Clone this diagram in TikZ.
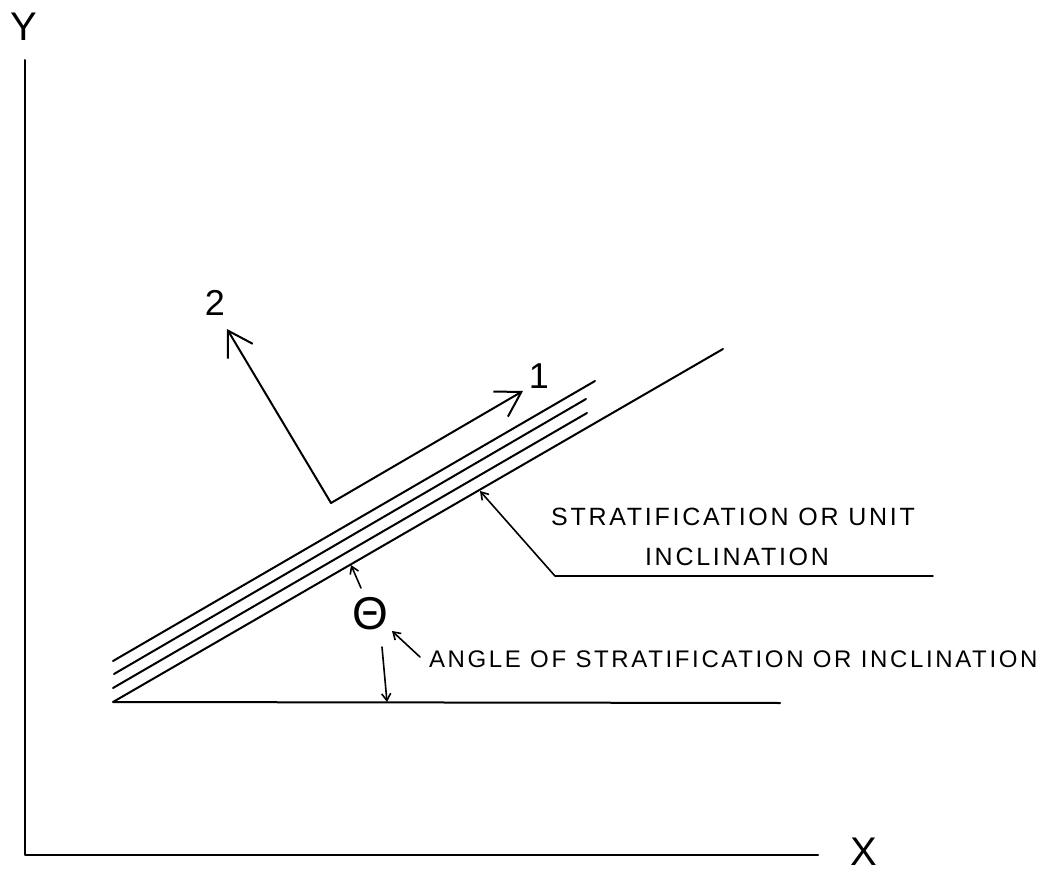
\documentclass[tikz,border=0pt]{standalone}
\usepackage{fontspec}
\setmainfont{Liberation Sans}
\newfontfamily\lettfont[LetterSpace=11]{Liberation Sans}
\usetikzlibrary{arrows.meta}
\begin{document}
\begin{tikzpicture}[x=1pt,y=-1pt,
  line width=2pt, line cap=round, line join=round,
  bigarrow/.style={-{Straight Barb[length=24pt,width=29pt,line width=2pt]}},
  smallarrow/.style={-{Straight Barb[length=7pt,width=9pt,line width=1.6pt]}, line width=1.6pt},
  axislabel/.style={inner sep=0pt, font=\fontsize{40}{46}\selectfont},
  dirlabel/.style={inner sep=0pt, font=\fontsize{36}{42}\selectfont},
  notelabel/.style={inner sep=0pt, font=\lettfont\fontsize{25}{30}\selectfont},
  anglelabel/.style={inner sep=0pt, font=\lettfont\fontsize{24}{30}\selectfont}]
\useasboundingbox (0,0) rectangle (1060,874);
% axes
\coordinate (O) at (25,855);
\coordinate (Ytop) at (25,60);
\coordinate (Xend) at (818,855);
\draw (Ytop) -- (O) -- (Xend);
\node[axislabel] (Ylab) at (24,27) {Y};
\node[axislabel] (Xlab) at (864,852) {X};
% base and strata
\coordinate (A) at (113,702);
\coordinate (B) at (780,703);
\coordinate (M) at (723,349);
\draw (B) -- (A) -- (M);
\coordinate (s1a) at (113,688); \coordinate (s1b) at (587,413);
\coordinate (s2a) at (114,674); \coordinate (s2b) at (586,399);
\coordinate (s3a) at (113,661); \coordinate (s3b) at (595,381);
\draw (s1a) -- (s1b);
\draw (s2a) -- (s2b);
\draw (s3a) -- (s3b);
% local axes 1 and 2
\coordinate (C) at (331,503);
\coordinate (T2) at (227,329);
\coordinate (T1) at (523,391);
\draw[bigarrow] (C) -- (T2);
\draw[bigarrow] (C) -- (T1);
\node[dirlabel] (L2) at (215,303) {2};
\node[dirlabel] (L1) at (539,376) {1};
% stratification leader
\coordinate (Stip) at (480,491);
\coordinate (Scorner) at (555,576);
\coordinate (Send) at (933,576);
\draw[smallarrow] (Send) -- (Scorner) -- (Stip);
\node[notelabel] (Strat1) at (733,517) {STRATIFICATION OR UNIT};
\node[notelabel] (Strat2) at (737,557) {INCLINATION};
% angle
\node[inner sep=0pt, font=\fontsize{46}{52}\selectfont] (Th) at (370,614) {Θ};
\coordinate (Uptail) at (361,588);
\coordinate (Uptip) at (351,565);
\coordinate (Dntail) at (382,647);
\coordinate (Dntip) at (387,702);
\draw[smallarrow] (Uptail) -- (Uptip);
\draw[smallarrow] (Dntail) -- (Dntip);
\node[anglelabel, anchor=west] (Ang) at (428,659) {ANGLE OF STRATIFICATION OR INCLINATION};
\coordinate (Atail) at (420,657);
\coordinate (Atip) at (392,631);
\draw[smallarrow] (Atail) -- (Atip);
\end{tikzpicture}
\end{document}
